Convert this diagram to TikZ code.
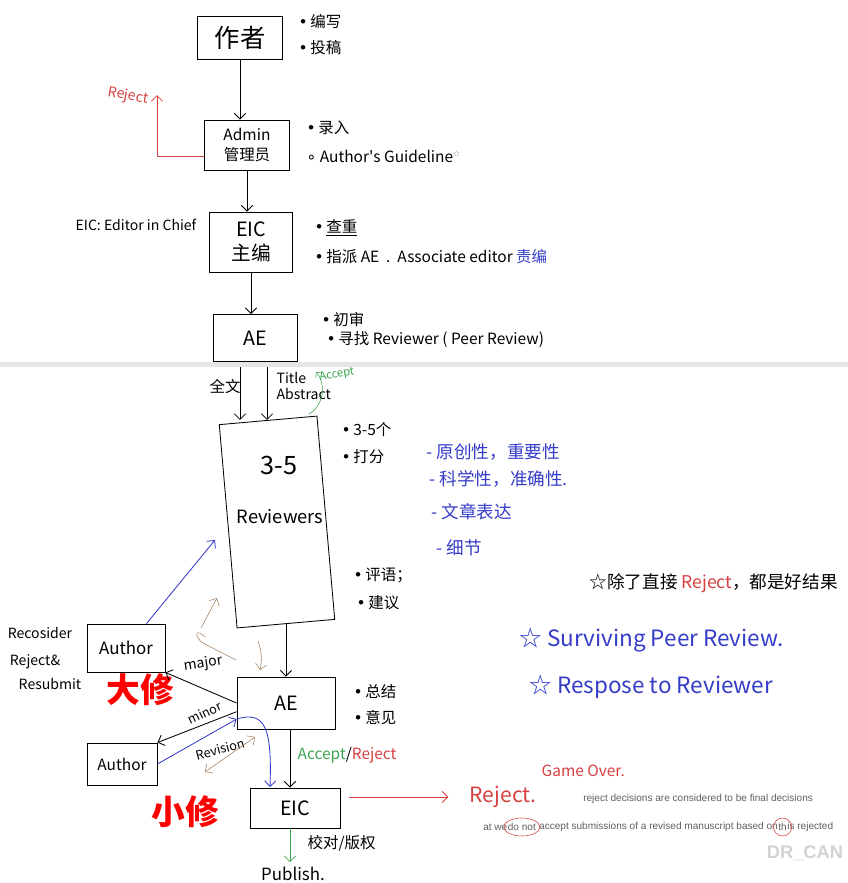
\documentclass[tikz,border=0pt]{standalone}
\usepackage{fontspec}
\setmainfont{Noto Sans CJK SC}
\newfontfamily\webfont{Liberation Sans}
\newfontfamily\symfont{DejaVu Sans}
\usepackage{xcolor}
\usetikzlibrary{arrows.meta}
\definecolor{penred}{RGB}{214,64,64}
\definecolor{penblue}{RGB}{52,60,200}
\definecolor{pengreen}{RGB}{60,165,80}
\definecolor{penbrown}{RGB}{165,130,100}
\definecolor{webgray}{RGB}{95,95,95}
\newcommand\bul{{\symfont•}\,}

\begin{document}
\begin{tikzpicture}[x=0.025cm,y=-0.025cm]
\tikzset{box/.style={draw,semithick,align=center,inner sep=1pt,font=\fontsize{14}{17}\selectfont}}
\tikzset{note/.style={anchor=west,inner sep=1pt,font=\fontsize{11}{13}\selectfont}}
\tikzset{bluenote/.style={note,text=penblue,font=\fontsize{12.5}{14}\selectfont}}
\tikzset{arr/.style={semithick,-{Straight Barb[length=4pt]}}}
\tikzset{bigmark/.style={text=red,inner sep=0pt,font=\fontsize{24}{26}\selectfont\bfseries}}
\tikzset{web/.style={anchor=west,text=webgray,inner sep=0pt,font=\webfont\fontsize{7.15}{8}\selectfont}}
\useasboundingbox (0,0) rectangle (848,883);

% boxes
\node[box,minimum width=2.125cm,minimum height=1.075cm,font=\fontsize{18}{20}\selectfont] (auth) at (240,38) {作者};
\node[box,minimum width=2.125cm,minimum height=1.25cm,font=\fontsize{11}{14}\selectfont] (admin) at (247,145) {Admin\\管理员};
\node[box,minimum width=2.075cm,minimum height=1.5cm] (eic) at (251,242) {EIC\\主编};
\node[box,minimum width=2.1cm,minimum height=1.175cm] (ae) at (255,338) {AE};
\node[box,minimum width=2.45cm,minimum height=5.1cm,rotate=5] (rev) at (277,522) {};
\node[font=\fontsize{18}{20}\selectfont] (three) at (279,465) {3-5};
\node[font=\fontsize{13}{15}\selectfont] (revtext) at (280,517) {Reviewers};
\node[box,minimum width=1.95cm,minimum height=1.2cm,font=\fontsize{12}{14}\selectfont] (authA) at (126,648) {Author};
\node[box,minimum width=2.45cm,minimum height=1.3cm] (ae2) at (286,703) {AE};
\node[box,minimum width=1.75cm,minimum height=1.05cm,font=\fontsize{11}{13}\selectfont] (authB) at (122,764) {Author};
\node[box,minimum width=2.25cm,minimum height=1cm] (eic2) at (295,808) {EIC};
\node[font=\fontsize{12}{14}\selectfont] (pub) at (293,874) {Publish.};

% notes
\node[note] (write) at (297,22) {\bul 编写};
\node[note] (submit) at (297,48) {\bul 投稿};
\node[note] (entry) at (305,128) {\bul 录入};
\node[note] (guide) at (305,156) {{\symfont∘} Author\textquotesingle s Guideline\raisebox{4pt}{\textcolor{penbrown}{\tiny ☆}}};
\node[note,anchor=east,font=\fontsize{10}{12}\selectfont] (eicdef) at (198,225) {EIC: Editor in Chief};
\node[note] (check) at (313,228) {\bul \underline{查重}};
\node[note] (assign) at (313,257) {\bul 指派 AE \ . \ Associate editor \textcolor{penblue}{责编}};
\node[note] (first) at (320,320) {\bul 初审};
\node[note] (find) at (325,340) {\bul 寻找 Reviewer ( Peer Review)};
\node[font=\fontsize{11}{13}\selectfont] (full) at (225,387) {全文};
\node[note,align=left,font=\fontsize{10}{11}\selectfont] (title) at (275,386) {Title\\Abstract};
\node[note,text=pengreen,rotate=10,font=\fontsize{8}{9}\selectfont] (acclab) at (318,378) {Accept};
\node[note] (count) at (340,430) {\bul 3-5个};
\node[note] (score) at (340,457) {\bul 打分};
\node[bluenote] (b1) at (425,452) {- 原创性，重要性};
\node[bluenote] (b2) at (428,479) {- 科学性，准确性.};
\node[bluenote] (b3) at (430,512) {- 文章表达};
\node[bluenote] (b4) at (435,548) {- 细节};
\node[note] (comment) at (352,575) {\bul 评语；};
\node[note] (advice) at (355,603) {\bul 建议};
\node[note,font=\fontsize{12.5}{15}\selectfont] (star1) at (588,583) {☆除了直接 \textcolor{penred}{Reject}，都是好结果};
\node[bluenote,font=\fontsize{16}{18}\selectfont] (star2) at (518,640) {☆ Surviving Peer Review.};
\node[bluenote,font=\fontsize{16}{18}\selectfont] (star3) at (528,687) {☆ Respose to Reviewer};
\node[font=\fontsize{10}{12}\selectfont] (recon) at (40,633) {Recosider};
\node[font=\fontsize{10}{12}\selectfont] (rr1) at (35,662) {Reject\&};
\node[font=\fontsize{10}{12}\selectfont] (rr2) at (50,684) {Resubmit};
\node[bigmark] (bigrev) at (140,690) {大修};
\node[bigmark] (smallrev) at (185,812) {小修};
\node[font=\fontsize{10}{12}\selectfont,rotate=8] (major) at (203,664) {major};
\node[font=\fontsize{9}{10}\selectfont,rotate=25,inner sep=0pt] (minor) at (205,713) {minor};
\node[font=\fontsize{9}{10}\selectfont,rotate=15,inner sep=0pt] (revis) at (220,749) {Revision};
\node[note] (sum) at (352,692) {\bul 总结};
\node[note] (opin) at (352,718) {\bul 意见};
\node[note] (decide) at (296,755) {\textcolor{pengreen}{Accept}/\textcolor{penred}{Reject}};
\node[note,text=penred,font=\fontsize{11}{13}\selectfont] (over) at (540,771) {Game Over.};
\node[note,text=penred,font=\fontsize{15}{17}\selectfont] (rejt) at (468,797) {Reject.};
\node[note] (proof) at (306,843) {校对/版权};
\node[web] (line1) at (583,799) {reject decisions are considered to be final decisions};
\node[web] (w1) at (483,827) {at we~};
\node[web] (w2) at (w1.east) {do not};
\node[web] (w3) at (w2.east) {~accept submissions of a revised manuscript based on~};
\node[web] (w4) at (w3.east) {th};
\node[web] (w5) at (w4.east) {is rejected};
\node[text=gray!35,font=\webfont\bfseries\fontsize{13}{14}\selectfont] (logo) at (805,853) {DR\_CAN};

\coordinate (fullx) at (240,0);
\coordinate (absx) at (267,0);
\coordinate (mainx) at (290,0);
\coordinate (rj) at (157,95);
\coordinate (acc1) at (309,414);
\coordinate (acc2) at (316,372);
\coordinate (revin) at (215,540);
\coordinate (bA) at (236,660);
\coordinate (bB) at (203,643);
\coordinate (bC) at (201,628);
\coordinate (bD) at (217,598);
\coordinate (bG) at (258,641);
\coordinate (bH) at (260,670);
\coordinate (bE) at (255,737);
\coordinate (bF) at (205,772);
\coordinate (eicin) at (270,787);

% connectors
\draw[arr] (auth.south) -- (auth.south |- admin.north);
\draw[arr,penred] (admin.195) -| (rj);
\node[text=penred,rotate=-10,font=\fontsize{10}{12}\selectfont] (rjlab) at (128,96) {Reject};
\draw[arr] (admin.south) -- (admin.south |- eic.north);
\draw[arr] (eic.south) -- (eic.south |- ae.north);
\draw[arr] (ae.south -| fullx) -- (rev.north -| fullx);
\draw[arr] (ae.south -| absx) -- (rev.north -| absx);
\draw[pengreen,-{Straight Barb[length=3pt]}] (acc1) to[bend right=50] (acc2);
\draw[arr,penblue] (authA.50) -- (revin);
\draw[penbrown] (bA) -- (bB) .. controls (194,637) and (195,627) .. (205,637);
\draw[arr,penbrown,thin] (bC) -- (bD);
\draw[arr,penbrown,thin] (bG) to[bend left=15] (bH);
\draw[arr] (rev.south) -- (rev.south |- ae2.north);
\draw[arr] (ae2.west) -- (authA.south east);
\draw[arr] (ae2.190) -- (authB.north east);
\draw[arr,penblue] (authB.east) -- (ae2.198);
\draw[arr,penblue] (ae2.198) .. controls (266,710) and (272,730) .. (eicin);
\draw[penbrown,thin,{Straight Barb[length=4pt]}-{Straight Barb[length=4pt]}] (bE) -- (bF);
\draw[arr] (ae2.south -| mainx) -- (eic2.north -| mainx);
\draw[arr,penred,shorten <=6pt,shorten >=14pt] (eic2.east |- rejt.west) -- (rejt.west);
\draw[arr,pengreen] (eic2.south -| mainx) -- (pub.north -| mainx);
\draw[penred] (w2) ellipse (18 and 9);
\draw[penred] (w4) ellipse (9 and 9);

% screenshot seam
\fill[gray!20] (0,362) rectangle (848,367);
\end{tikzpicture}
\end{document}
